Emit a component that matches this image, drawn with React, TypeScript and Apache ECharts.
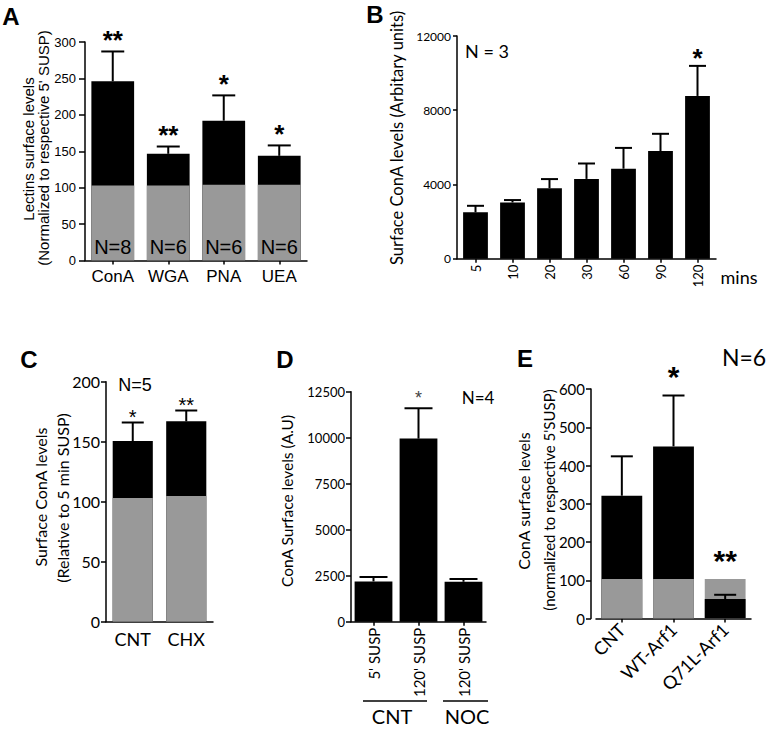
import React, { useEffect, useRef } from "react";
import * as echarts from "echarts";

// ---------- Panel A ----------
const aCategories = ["ConA", "WGA", "PNA", "UEA"];
const aTotal = [246, 146.5, 192, 143.7];
const aBase = [103, 103, 104, 104];
const aErrTop = [287, 156.5, 226.7, 158];
const aStars = ["**", "**", "*", "*"];
const aN = ["N=8", "N=6", "N=6", "N=6"];

// ---------- Panel B ----------
const bCategories = ["5", "10", "20", "30", "60", "90", "120"];
const bMeans = [2500, 3030, 3800, 4300, 4850, 5800, 8770];
const bErrTop = [2850, 3160, 4290, 5130, 5970, 6730, 10390];
const bStars = ["", "", "", "", "", "", "*"];

// ---------- Panel C ----------
const cCategories = ["CNT", "CHX"];
const cTotal = [150.6, 167];
const cBase = [103, 104.7];
const cErrTop = [166, 176];
const cStars = ["*", "**"];

// ---------- Panel D ----------
const dCategories = ["5' SUSP", "120' SUSP", "120' SUSP"];
const dMeans = [2190, 9950, 2170];
const dErrTop = [2430, 11600, 2320];
const dStars = ["", "*", ""];
const dGroups = ["CNT", "NOC"];

// ---------- Panel E ----------
const eCategories = ["CNT", "WT-Arf1", "Q71L-Arf1"];
const eTotal = [321, 450, 51];
const eBase = [103, 103, 103];
const eErrTop = [424, 583, 62];
const eStars = ["", "*", "**"];

const HELV = "'Liberation Sans', Arial, sans-serif";
const GILL = "Lato, 'Open Sans', sans-serif";
const GRAY = "#999999";

function valueAxis(idx: number, max: number, interval: number, font: string, fs: number, margin: number, tick: number, offset = 0) {
  return {
    type: "value",
    gridIndex: idx,
    min: 0,
    max,
    interval,
    offset,
    axisLine: { show: true, lineStyle: { color: "#000", width: 1.5 } },
    axisTick: { show: true, length: tick, lineStyle: { color: "#000", width: 1.5 } },
    splitLine: { show: false },
    axisLabel: { color: "#000", fontFamily: font, fontSize: fs, margin, formatter: (v: number) => String(v) },
  };
}

function catAxis(idx: number, cats: string[], font: string, fs: number, margin: number, rotate = 0, ticks = true) {
  return {
    type: "category",
    gridIndex: idx,
    data: cats,
    axisLine: { show: true, lineStyle: { color: "#000", width: 1.5 } },
    axisTick: { show: ticks, alignWithLabel: true, length: 4, lineStyle: { color: "#000", width: 1.5 } },
    axisLabel: { color: "#000", fontFamily: font, fontSize: fs, margin, rotate, interval: 0 },
  };
}

function bar(idx: number, data: any[], color: string, width: string, extra: any = {}) {
  return {
    type: "bar",
    xAxisIndex: idx,
    yAxisIndex: idx,
    data,
    barWidth: width,
    barGap: "-100%",
    itemStyle: { color },
    ...extra,
  };
}

function errSeries(
  idx: number,
  errTop: number[],
  means: number[],
  capW: number,
  stars: string[],
  star: { fs: number; weight: string; color: string; font: string; gap: number },
  starBase?: number[]
) {
  return {
    type: "custom",
    xAxisIndex: idx,
    yAxisIndex: idx,
    z: 5,
    data: errTop.map((t, i) => [i, t, means[i]]),
    encode: { x: 0, y: 1 },
    renderItem: (params: any, api: any) => {
      const i = api.value(0);
      const top = api.value(1);
      const mean = api.value(2);
      const p0 = api.coord([i, mean]);
      const p1 = api.coord([i, top]);
      const children: any[] = [
        { type: "line", shape: { x1: p0[0], y1: p0[1], x2: p1[0], y2: p1[1] }, style: { stroke: "#000", lineWidth: 2 } },
        { type: "line", shape: { x1: p1[0] - capW / 2, y1: p1[1], x2: p1[0] + capW / 2, y2: p1[1] }, style: { stroke: "#000", lineWidth: 2 } },
      ];
      const s = stars[params.dataIndex];
      if (s) {
        const anchor = Math.max(top, starBase ? starBase[params.dataIndex] : 0);
        const pa = api.coord([i, anchor]);
        children.push({
          type: "text",
          x: pa[0],
          y: pa[1] - star.gap + 0.23 * star.fs,
          style: {
            text: s,
            fontSize: star.fs,
            fontWeight: star.weight,
            fontFamily: star.font,
            fill: star.color,
            align: "center",
            verticalAlign: "middle",
          },
        });
      }
      return { type: "group", children };
    },
  };
}

function txt(text: string, x: number, y: number, fs: number, font: string, opts: any = {}) {
  const { rotation = 0, weight = "normal", align = "center" } = opts;
  return {
    type: "text",
    x,
    y,
    rotation,
    style: { text, fontSize: fs, fontFamily: font, fontWeight: weight, fill: "#000", align, verticalAlign: "middle" },
  };
}

export default function App() {
  const ref = useRef<HTMLDivElement>(null);
  useEffect(() => {
    if (!ref.current) return;
    const chart = echarts.init(ref.current, undefined, { renderer: "svg" });
    const R = Math.PI / 2;
    const eBack = eTotal.map((v, i) => (v > eBase[i] ? v : "-"));
    const eFront = eTotal.map((v, i) => (v <= eBase[i] ? v : "-"));
    const option: any = {
      animation: false,
      backgroundColor: "#fff",
      grid: [
        { left: 85, top: 42, width: 222, height: 218.5 },
        { left: 457, top: 36, width: 259, height: 222.7 },
        { left: 106, top: 381.7, width: 107, height: 240 },
        { left: 351, top: 391.7, width: 135, height: 230 },
        { left: 596, top: 389, width: 155, height: 229.5 },
      ],
      xAxis: [
        catAxis(0, aCategories, HELV, 17, 7),
        catAxis(1, bCategories, GILL, 13, 6, 90),
        catAxis(2, cCategories, GILL, 18, 8, 0, false),
        catAxis(3, dCategories, GILL, 15, 6, 90),
        catAxis(4, eCategories, GILL, 18, 8, 45),
      ],
      yAxis: [
        valueAxis(0, 300, 50, HELV, 13, 9, 6),
        valueAxis(1, 12000, 4000, GILL, 12, 6, 4),
        valueAxis(2, 200, 50, GILL, 16, 6, 5),
        valueAxis(3, 12500, 2500, GILL, 13, 6, 5),
        valueAxis(4, 600, 100, GILL, 15, 6, 5, 5),
      ],
      series: [
        // A
        bar(0, aTotal, "#000", "77%"),
        bar(0, aBase, GRAY, "77%", {
          label: {
            show: true,
            position: "insideBottom",
            distance: 4,
            formatter: (p: any) => aN[p.dataIndex],
            fontSize: 20,
            fontFamily: HELV,
            color: "#000",
          },
        }),
        errSeries(0, aErrTop, aTotal, 23, aStars, { fs: 26, weight: "bold", color: "#000", font: HELV, gap: 17 }),
        // B
        bar(1, bMeans, "#000", "67%"),
        errSeries(1, bErrTop, bMeans, 17, bStars, { fs: 26, weight: "bold", color: "#000", font: HELV, gap: 14 }),
        // C
        bar(2, cTotal, "#000", "75%"),
        bar(2, cBase, GRAY, "75%"),
        errSeries(2, cErrTop, cTotal, 22, cStars, { fs: 20, weight: "normal", color: "#000", font: HELV, gap: 10 }),
        // D
        bar(3, dMeans, "#000", "84%"),
        errSeries(3, dErrTop, dMeans, 28, dStars, { fs: 18, weight: "normal", color: "#444", font: HELV, gap: 14 }),
        // E
        bar(4, eBack, "#000", "79%"),
        bar(4, eBase, GRAY, "79%"),
        bar(4, eFront, "#000", "79%"),
        errSeries(4, eErrTop, eTotal, 22, eStars, { fs: 30, weight: "bold", color: "#000", font: HELV, gap: 26 }, eBase),
      ],
      graphic: [
        // panel letters
        txt("A", 11, 16, 24, HELV, { weight: "bold" }),
        txt("B", 375, 14, 24, HELV, { weight: "bold" }),
        txt("C", 29, 359, 24, HELV, { weight: "bold" }),
        txt("D", 285, 359, 24, HELV, { weight: "bold" }),
        txt("E", 525, 358, 24, HELV, { weight: "bold" }),
        // y titles
        txt("Lectins surface levels", 28, 149, 15, HELV, { rotation: R }),
        txt("(Normalized to respective 5' SUSP)", 43, 148, 15, HELV, { rotation: R }),
        txt("Surface ConA levels (Arbitary units)", 397, 138, 16.5, GILL, { rotation: R }),
        txt("Surface ConA levels", 40, 497, 16, GILL, { rotation: R }),
        txt("(Relative to 5 min SUSP)", 62, 498, 16, GILL, { rotation: R }),
        txt("ConA Surface levels (A.U)", 287, 501, 15.5, GILL, { rotation: R }),
        txt("ConA surface levels", 523, 501, 16, GILL, { rotation: R }),
        txt("(normalized to respective 5'SUSP)", 549, 500, 15, GILL, { rotation: R }),
        // N labels
        txt("N = 3", 487, 51, 18, GILL),
        txt("N=5", 135, 385, 18, HELV),
        txt("N=4", 478, 397, 17, GILL),
        txt("N=6", 744, 357, 23, GILL),
        // B unit
        txt("mins", 739, 277, 18, GILL),
        // D groups
        { type: "line", shape: { x1: 363, y1: 701, x2: 427, y2: 701 }, style: { stroke: "#000", lineWidth: 1.5 } },
        { type: "line", shape: { x1: 443, y1: 701, x2: 488, y2: 701 }, style: { stroke: "#000", lineWidth: 1.5 } },
        txt(dGroups[0], 392, 716, 20, GILL),
        txt(dGroups[1], 467, 716, 20, GILL),
      ],
    };
    chart.setOption(option);
    return () => chart.dispose();
  }, []);
  return (
    <div
      ref={ref}
      style={{ position: "absolute", left: 0, top: 0, width: 769, height: 730, background: "#fff" }}
    />
  );
}
